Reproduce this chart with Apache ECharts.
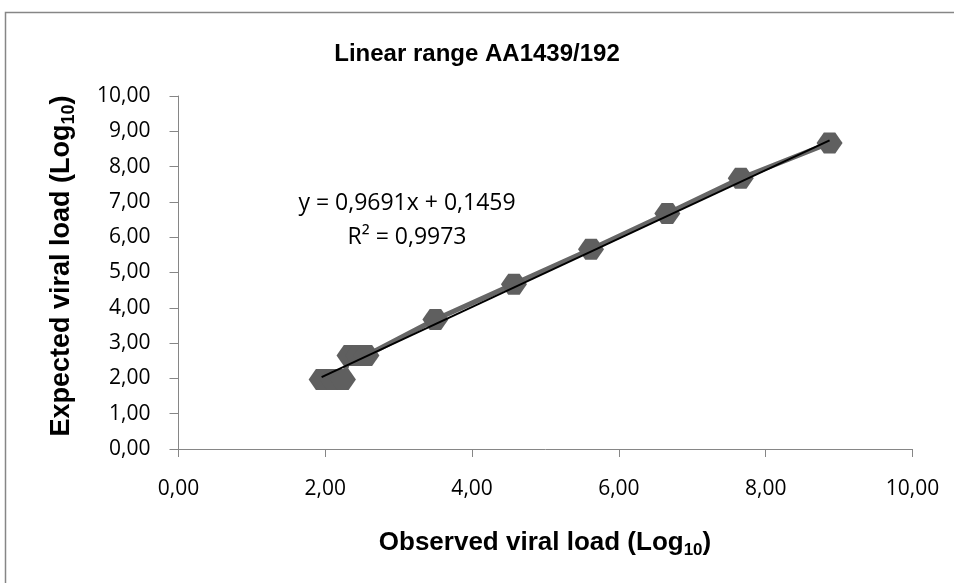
<!DOCTYPE html>
<html>
<head>
<meta charset="utf-8">
<script src="https://cdn.jsdelivr.net/npm/echarts@6/dist/echarts.min.js"></script>
<style>
html,body{margin:0;padding:0;background:#fff;}
#chart{width:954px;height:583px;}
</style>
</head>
<body>
<div id="chart"></div>
<script>
// Data
const observed = [1.95, 2.10, 2.24, 2.33, 2.45, 2.56, 3.50, 4.57, 5.62, 6.66, 7.66, 8.87];
const expected = [1.97, 1.97, 1.97, 2.65, 2.65, 2.65, 3.67, 4.67, 5.66, 6.67, 7.67, 8.67];
const trendSlope = 0.9691;
const trendIntercept = 0.1459;
const equationText = 'y = 0,9691x + 0,1459';
const r2Text = 'R² = 0,9973';
const chartTitle = 'Linear range AA1439/192';
const xTitle = 'Observed viral load (Log';
const yTitle = 'Expected viral load (Log';
const subText = '10';

const pts = observed.map((x, i) => [x, expected[i]]);
const xMin = Math.min(...observed), xMax = Math.max(...observed);
const trend = [[xMin, trendSlope * xMin + trendIntercept], [xMax, trendSlope * xMax + trendIntercept]];

const fmt = v => v.toFixed(2).replace('.', ',');
const axisGray = '#868686';
const labelFont = '"Open Sans", sans-serif';
const boldFont = '"Liberation Sans", Arial, sans-serif';

const chart = echarts.init(document.getElementById('chart'), null, {renderer: 'canvas'});
chart.setOption({
  animation: false,
  backgroundColor: '#fff',
  grid: {left: 178.5, right: 41.5, top: 96, bottom: 134, containLabel: false},
  xAxis: {
    type: 'value', min: 0, max: 10, interval: 2,
    axisLine: {show: true, onZero: false, lineStyle: {color: axisGray, width: 1}},
    axisTick: {show: true, length: 8, lineStyle: {color: axisGray}},
    axisLabel: {formatter: fmt, margin: 30, color: '#000', fontSize: 21, fontFamily: labelFont},
    splitLine: {show: false}
  },
  yAxis: {
    type: 'value', min: 0, max: 10, interval: 1,
    axisLine: {show: true, onZero: false, lineStyle: {color: axisGray, width: 1}},
    axisTick: {show: true, length: 9, lineStyle: {color: axisGray}},
    axisLabel: {formatter: fmt, margin: 28, color: '#000', fontSize: 21, fontFamily: labelFont},
    splitLine: {show: false}
  },
  series: [
    {
      type: 'line', data: pts, z: 2,
      symbol: 'path://M0,10 L7,0 L18,0 L25,10 L18,20 L7,20 Z',
      symbolSize: [26, 21], showAllSymbol: true,
      itemStyle: {color: '#5f5f5f'},
      lineStyle: {color: '#666666', width: 5}
    },
    {
      type: 'line', data: trend, z: 3, symbol: 'none',
      lineStyle: {color: '#000', width: 2}
    }
  ],
  graphic: [
    {type: 'rect', z: -1, shape: {x: 5.5, y: 12.5, width: 1000, height: 700},
     style: {fill: 'none', stroke: axisGray, lineWidth: 1.5}},
    {type: 'text', x: 477, y: 54, style: {text: chartTitle, font: 'bold 24px ' + boldFont, fill: '#000', textAlign: 'center', textVerticalAlign: 'middle'}},
    {type: 'text', x: 545, y: 543, style: {
      text: '{m|' + xTitle + '}{s|' + subText + '}{m|)}',
      textAlign: 'center', textVerticalAlign: 'middle',
      rich: {
        m: {fontFamily: boldFont, fontWeight: 'bold', fontSize: 26, fill: '#000', color: '#000'},
        s: {fontFamily: boldFont, fontWeight: 'bold', fontSize: 17, fill: '#000', color: '#000', padding: [14, 0, 0, 0]}
      }}},
    {type: 'text', x: 62, y: 266, rotation: Math.PI / 2, style: {
      text: '{m|' + yTitle + '}{s|' + subText + '}{m|)}',
      textAlign: 'center', textVerticalAlign: 'middle',
      rich: {
        m: {fontFamily: boldFont, fontWeight: 'bold', fontSize: 27, fill: '#000', color: '#000'},
        s: {fontFamily: boldFont, fontWeight: 'bold', fontSize: 18, fill: '#000', color: '#000', padding: [14, 0, 0, 0]}
      }}},
    {type: 'text', x: 407, y: 203, style: {text: equationText, font: '23px ' + labelFont, fill: '#000', textAlign: 'center', textVerticalAlign: 'middle'}},
    {type: 'text', x: 407, y: 237, style: {text: r2Text, font: '23px ' + labelFont, fill: '#000', textAlign: 'center', textVerticalAlign: 'middle'}}
  ]
});
</script>
</body>
</html>
